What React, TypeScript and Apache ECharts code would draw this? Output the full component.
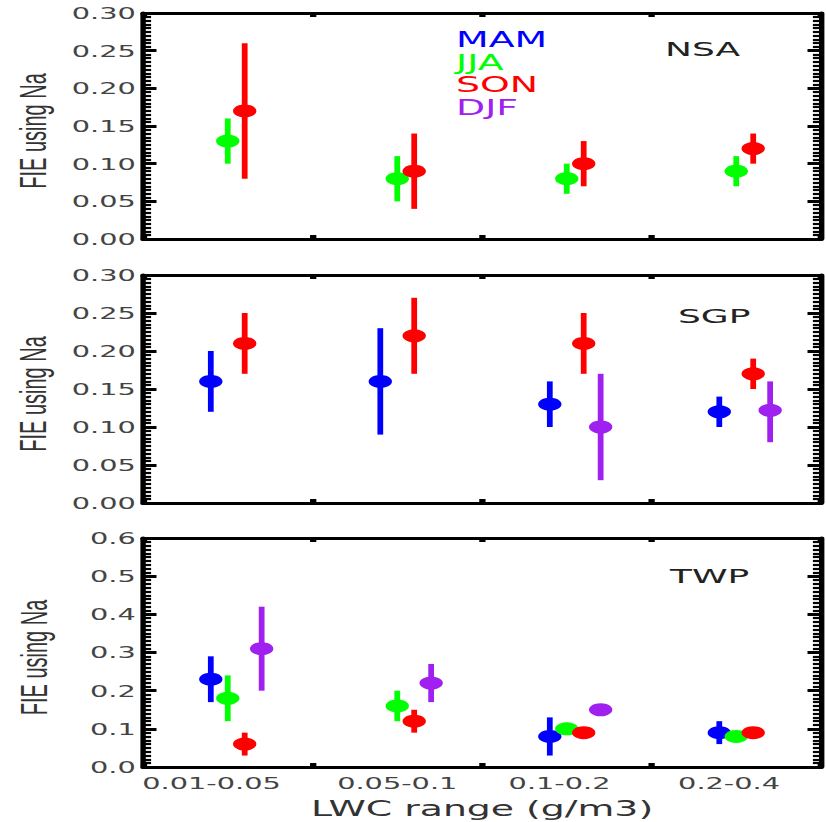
import React, { useEffect, useRef } from 'react';
import * as echarts from 'echarts';

// ---------- data ----------
const categories = ['0.01-0.05', '0.05-0.1', '0.1-0.2', '0.2-0.4'];
const seasons = ['MAM', 'JJA', 'SON', 'DJF'];
const seasonColors = ['#0000ff', '#00ff00', '#ff0000', '#a020f0'];
const sites = ['NSA', 'SGP', 'TWP'];
const yMaxes = [0.3, 0.3, 0.6];
const ySteps = [0.05, 0.05, 0.1];
const yDecimals = [2, 2, 1];

type V = number | null;
// NSA
const nsaMAM: V[] = [null, null, null, null];
const nsaMAMLow: V[] = [null, null, null, null];
const nsaMAMHigh: V[] = [null, null, null, null];
const nsaJJA: V[] = [0.13, 0.08, 0.08, 0.09];
const nsaJJALow: V[] = [0.10, 0.05, 0.06, 0.07];
const nsaJJAHigh: V[] = [0.16, 0.11, 0.10, 0.11];
const nsaSON: V[] = [0.17, 0.09, 0.10, 0.12];
const nsaSONLow: V[] = [0.08, 0.04, 0.07, 0.10];
const nsaSONHigh: V[] = [0.26, 0.14, 0.13, 0.14];
const nsaDJF: V[] = [null, null, null, null];
const nsaDJFLow: V[] = [null, null, null, null];
const nsaDJFHigh: V[] = [null, null, null, null];
// SGP
const sgpMAM: V[] = [0.16, 0.16, 0.13, 0.12];
const sgpMAMLow: V[] = [0.12, 0.09, 0.10, 0.10];
const sgpMAMHigh: V[] = [0.20, 0.23, 0.16, 0.14];
const sgpJJA: V[] = [null, null, null, null];
const sgpJJALow: V[] = [null, null, null, null];
const sgpJJAHigh: V[] = [null, null, null, null];
const sgpSON: V[] = [0.21, 0.22, 0.21, 0.17];
const sgpSONLow: V[] = [0.17, 0.17, 0.17, 0.15];
const sgpSONHigh: V[] = [0.25, 0.27, 0.25, 0.19];
const sgpDJF: V[] = [null, null, 0.10, 0.122];
const sgpDJFLow: V[] = [null, null, 0.03, 0.08];
const sgpDJFHigh: V[] = [null, null, 0.17, 0.16];
// TWP
const twpMAM: V[] = [0.23, null, 0.08, 0.09];
const twpMAMLow: V[] = [0.17, null, 0.03, 0.06];
const twpMAMHigh: V[] = [0.29, null, 0.13, 0.12];
const twpJJA: V[] = [0.18, 0.16, 0.10, 0.08];
const twpJJALow: V[] = [0.12, 0.12, 0.09, 0.075];
const twpJJAHigh: V[] = [0.24, 0.20, 0.11, 0.085];
const twpSON: V[] = [0.06, 0.12, 0.09, 0.09];
const twpSONLow: V[] = [0.03, 0.09, 0.085, 0.085];
const twpSONHigh: V[] = [0.09, 0.15, 0.095, 0.095];
const twpDJF: V[] = [0.31, 0.22, 0.15, null];
const twpDJFLow: V[] = [0.20, 0.17, 0.145, null];
const twpDJFHigh: V[] = [0.42, 0.27, 0.155, null];

const means = [
  [nsaMAM, nsaJJA, nsaSON, nsaDJF],
  [sgpMAM, sgpJJA, sgpSON, sgpDJF],
  [twpMAM, twpJJA, twpSON, twpDJF],
];
const lows = [
  [nsaMAMLow, nsaJJALow, nsaSONLow, nsaDJFLow],
  [sgpMAMLow, sgpJJALow, sgpSONLow, sgpDJFLow],
  [twpMAMLow, twpJJALow, twpSONLow, twpDJFLow],
];
const highs = [
  [nsaMAMHigh, nsaJJAHigh, nsaSONHigh, nsaDJFHigh],
  [sgpMAMHigh, sgpJJAHigh, sgpSONHigh, sgpDJFHigh],
  [twpMAMHigh, twpJJAHigh, twpSONHigh, twpDJFHigh],
];

// ---------- layout ----------
const S = 1.8; // horizontal stretch of the whole figure
const W = 826 / S;
const H = 822;
const gridTops = [13, 275, 538];
const gridHeights = [226, 228, 229];
const gridLeft = 143 / S;
const gridRight = W - 821 / S;
const dodge = [0.4, 0.5, 0.6, 0.7];
const titlePos = [
  [665 / S, 39],
  [678 / S, 306],
  [670 / S, 566],
];

const tickFont = 'DejaVu Sans';

function buildOption() {
  const grid: any[] = [];
  const xAxis: any[] = [];
  const yAxis: any[] = [];
  const series: any[] = [];
  const lineStyle = { color: '#000', width: 3 };

  for (let p = 0; p < 3; p++) {
    grid.push({ left: gridLeft, right: gridRight, top: gridTops[p], height: gridHeights[p] });
    for (const pos of ['bottom', 'top']) {
      xAxis.push({
        type: 'value', gridIndex: p, position: pos, min: 0, max: 4, interval: 1,
        axisLine: { show: true, onZero: false, lineStyle },
        axisTick: { show: true, inside: true, length: 4, lineStyle: { width: 3.5, color: '#000' } },
        axisLabel: { show: false }, splitLine: { show: false },
      });
    }
    for (const pos of ['left', 'right']) {
      const isLeft = pos === 'left';
      yAxis.push({
        type: 'value', gridIndex: p, position: pos, min: 0, max: yMaxes[p], interval: ySteps[p],
        axisLine: { show: true, onZero: false, lineStyle },
        axisTick: { show: true, inside: true, length: 7.5, lineStyle: { width: 3, color: '#000' } },
        minorTick: { show: true, splitNumber: 10, length: 4.5, lineStyle: { width: 2.2, color: '#000' } },
        splitLine: { show: false },
        axisLabel: {
          show: isLeft, margin: 4, fontFamily: tickFont, fontSize: 16, color: '#444',
          formatter: (v: number) => v.toFixed(yDecimals[p]),
        },
        name: isLeft ? 'FIE using Na' : '',
        nameLocation: 'middle', nameGap: 50, nameRotate: 90,
        nameTextStyle: { fontFamily: 'Liberation Sans', fontSize: 20, color: '#333', padding: [0, 10, 0, 0] },
      });
    }
    for (let s = 0; s < 4; s++) {
      const m = means[p][s], lo = lows[p][s], hi = highs[p][s];
      const errData: any[] = [];
      const ptData: any[] = [];
      categories.forEach((_, i) => {
        if (m[i] == null) return;
        errData.push([i + dodge[s], lo[i], hi[i]]);
        ptData.push([i + dodge[s], m[i]]);
      });
      if (!ptData.length) continue;
      const color = seasonColors[s];
      series.push({
        type: 'custom', name: seasons[s], xAxisIndex: p * 2, yAxisIndex: p * 2,
        data: errData, encode: { x: 0, y: [1, 2] },
        renderItem: (_params: any, api: any) => {
          const a = api.coord([api.value(0), api.value(1)]);
          const b = api.coord([api.value(0), api.value(2)]);
          return {
            type: 'line',
            shape: { x1: a[0], y1: a[1], x2: b[0], y2: b[1] },
            style: { stroke: color, lineWidth: 3.2 },
          };
        },
      });
      series.push({
        type: 'scatter', name: seasons[s], xAxisIndex: p * 2, yAxisIndex: p * 2,
        data: ptData, symbol: 'circle', symbolSize: 13,
        itemStyle: { color, opacity: 1 },
      });
    }
  }
  // category axis carrying the tick labels of the bottom panel
  const shifts = [18, 0, 8, 8];
  const rich: any = {};
  shifts.forEach((sh, i) => {
    rich['c' + i] = { fontFamily: tickFont, fontSize: 16, color: '#444', padding: [0, sh, 0, 0] };
  });
  xAxis.push({
    type: 'category', gridIndex: 2, position: 'bottom', data: categories, boundaryGap: true,
    axisLine: { show: false }, axisTick: { show: false }, splitLine: { show: false },
    axisLabel: {
      show: true, margin: 8, interval: 0, fontFamily: tickFont, fontSize: 16, color: '#444',
      formatter: (v: string, i: number) => `{c${i}|${v}}`, rich,
    },
    name: 'LWC range (g/m3)', nameLocation: 'middle', nameGap: 31,
    nameTextStyle: { fontFamily: tickFont, fontSize: 21, color: '#333' },
  });

  return {
    animation: false,
    backgroundColor: '#fff',
    title: sites.map((t, p) => ({
      text: t, left: titlePos[p][0], top: titlePos[p][1], padding: 0,
      textStyle: { fontFamily: tickFont, fontSize: 20, fontWeight: 'normal', color: '#222' },
    })),
    legend: {
      orient: 'vertical', left: 457 / S - 10.5, top: 24.5, icon: 'none', itemWidth: 0, itemHeight: 14,
      itemGap: 1.5, selectedMode: false,
      textStyle: { fontFamily: tickFont, fontSize: 21 },
      data: seasons.map((s, i) => ({ name: s, textStyle: { color: seasonColors[i] } })),
    },
    grid, xAxis, yAxis, series,
  };
}

export default function App() {
  const ref = useRef<HTMLDivElement>(null);
  useEffect(() => {
    if (!ref.current) return;
    const chart = echarts.init(ref.current, null, { renderer: 'svg', width: W, height: H });
    chart.setOption(buildOption() as any);
    return () => chart.dispose();
  }, []);
  return (
    <div style={{ position: 'absolute', left: 0, top: 0, width: 826, height: 822, overflow: 'hidden', background: '#fff' }}>
      <div
        ref={ref}
        style={{ width: W, height: H, transform: `scaleX(${S})`, transformOrigin: '0 0' }}
      />
    </div>
  );
}
